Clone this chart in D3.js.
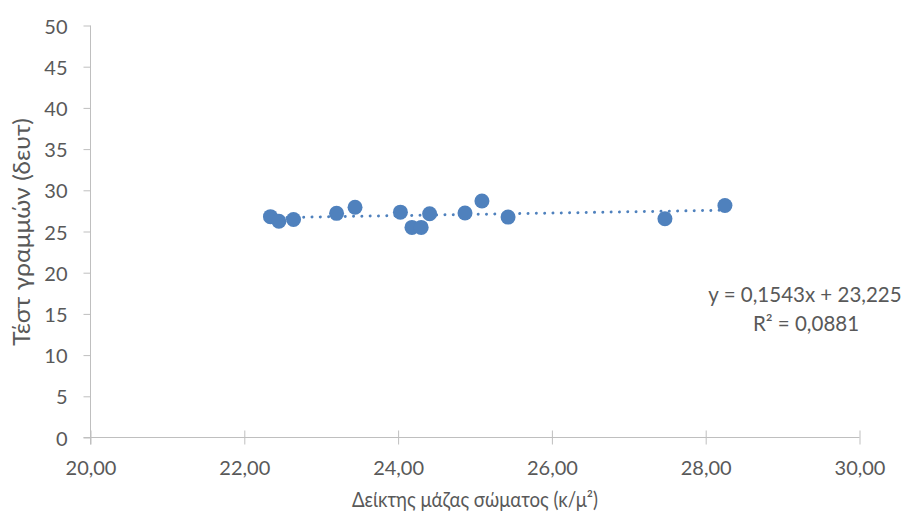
<!DOCTYPE html>
<html>
<head>
<meta charset="utf-8">
<script src="https://cdn.jsdelivr.net/npm/d3@7"></script>
<style>
  html, body { margin: 0; padding: 0; background: #fff; }
  svg text { font-family: Lato, "Open Sans", "Liberation Sans", sans-serif; fill: #595959; }
</style>
</head>
<body>
<svg id="chart" width="906" height="519"></svg>
<script>
// Body mass index (x) against line-test time in seconds (y)
const bmi = [22.34, 22.45, 22.64, 23.20, 23.44, 24.03, 24.18, 24.30, 24.41, 24.87, 25.09, 25.43, 27.47, 28.25];
const testTime = [26.8, 26.25, 26.45, 27.2, 27.95, 27.35, 25.5, 25.5, 27.15, 27.25, 28.7, 26.75, 26.55, 28.15];

// Linear trendline as printed on the chart
const slope = 0.1543;
const intercept = 23.225;
const equationLabel = "y = 0,1543x + 23,225";
const r2Label = "R² = 0,0881";

const xTicks = [20, 22, 24, 26, 28, 30];
const yTicks = [0, 5, 10, 15, 20, 25, 30, 35, 40, 45, 50];
const xTitle = "Δείκτης μάζας σώματος (κ/μ²)";
const yTitle = "Τέστ γραμμών (δευτ)";

const svg = d3.select("#chart");
const axisColor = "#bfbfbf";
const markColor = "#4f81bd";
const fontStack = "Lato, 'Open Sans', 'Liberation Sans', sans-serif";

const x = d3.scaleLinear().domain([20, 30]).range([90.5, 859.5]);
const y = d3.scaleLinear().domain([0, 50]).range([437.5, 25.5]);

const fmtX = v => d3.format(".2f")(v).replace(".", ",");

// Y axis: line plus outside ticks
const yAxis = svg.append("g").attr("transform", `translate(${x(20)},0)`)
  .call(d3.axisLeft(y).tickValues(yTicks).tickSize(7).tickSizeOuter(0).tickPadding(16));
yAxis.select(".domain").attr("stroke", axisColor).attr("d", `M0,${y(50)}V${y(0) + 7}`);
yAxis.selectAll(".tick line").attr("stroke", axisColor);
yAxis.selectAll(".tick text").attr("font-size", 20).attr("dy", "0.38em")
  .style("font-family", fontStack).attr("fill", "#595959");

// X axis: line plus crossing ticks
const xAxis = svg.append("g").attr("transform", `translate(0,${y(0)})`)
  .call(d3.axisBottom(x).tickValues(xTicks).tickFormat(fmtX).tickSize(7).tickSizeOuter(0).tickPadding(16));
xAxis.select(".domain").attr("stroke", axisColor).attr("d", `M${x(20) - 7},0H${x(30)}`);
xAxis.selectAll(".tick line").attr("stroke", axisColor).attr("y1", -7).attr("y2", 7);
xAxis.selectAll(".tick text").attr("font-size", 20)
  .style("font-family", fontStack).attr("fill", "#595959");

// Dotted trendline over the data range
const x0 = d3.min(bmi), x1 = d3.max(bmi);
svg.append("line")
  .attr("x1", x(x0)).attr("y1", y(slope * x0 + intercept))
  .attr("x2", x(x1)).attr("y2", y(slope * x1 + intercept))
  .attr("stroke", markColor)
  .attr("stroke-width", 3)
  .attr("stroke-linecap", "round")
  .attr("stroke-dasharray", "0.01,8.3");

// Data points
svg.append("g").selectAll("circle")
  .data(bmi.map((v, i) => [v, testTime[i]]))
  .join("circle")
  .attr("cx", d => x(d[0]))
  .attr("cy", d => y(d[1]))
  .attr("r", 7.5)
  .attr("fill", markColor);

// Trendline equation
const eq = svg.append("g").attr("font-size", 20.5).attr("text-anchor", "middle");
eq.append("text").attr("x", 805).attr("y", 302).text(equationLabel);
eq.append("text").attr("x", 806).attr("y", 331).text(r2Label);

// Axis titles (condensed slightly to a fixed run length)
svg.append("text")
  .attr("x", 475).attr("y", 507)
  .attr("text-anchor", "middle").attr("font-size", 21)
  .attr("textLength", 246).attr("lengthAdjust", "spacingAndGlyphs")
  .text(xTitle);
svg.append("text")
  .attr("transform", `translate(30,232) rotate(-90)`)
  .attr("text-anchor", "middle").attr("font-size", 22.5)
  .attr("textLength", 228).attr("lengthAdjust", "spacingAndGlyphs")
  .text(yTitle);
</script>
</body>
</html>
